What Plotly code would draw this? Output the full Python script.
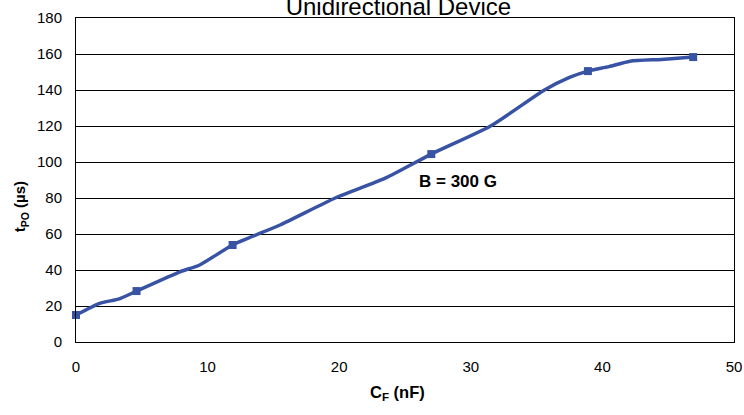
import plotly.graph_objects as go

# curve
curve_x = [0, 1.8, 3.3, 4.6, 7.9, 9.4, 11.9, 15.5, 19.7, 23.5, 27.0, 31.5, 35.6, 37.5, 38.9, 40.5, 42.1, 44.5, 46.9]
curve_y = [15, 21.5, 24, 28.3, 39, 42.8, 53.9, 65, 80, 91, 104.4, 120, 140, 147, 150.5, 153, 156, 157, 158.3]
# marked points
mark_x = [0, 4.6, 11.9, 27.0, 38.9, 46.9]
mark_y = [15, 28.3, 53.9, 104.4, 150.5, 158.3]

x_ticks = [0, 10, 20, 30, 40, 50]
y_ticks = [0, 20, 40, 60, 80, 100, 120, 140, 160, 180]

color = "#3953a4"
fig = go.Figure()
fig.add_trace(go.Scatter(x=curve_x, y=curve_y, mode="lines",
                         line=dict(color=color, width=3.5, shape="spline", smoothing=0.6),
                         showlegend=False, hoverinfo="skip", cliponaxis=False))
fig.add_trace(go.Scatter(x=mark_x, y=mark_y, mode="markers",
                         marker=dict(color=color, symbol="square", size=8),
                         showlegend=False, cliponaxis=False))

fig.update_layout(
    width=744, height=415,
    margin=dict(l=76, r=10, t=18, b=73, autoexpand=False),
    paper_bgcolor="white", plot_bgcolor="white",
    font=dict(family="Liberation Sans, Arial, sans-serif", size=15, color="black"),
    title=dict(text="Unidirectional Device", x=0.49, xref="paper", xanchor="center",
               y=0.964, yref="container", yanchor="bottom",
               font=dict(size=24, color="black")),
    xaxis=dict(range=[0, 50], tickvals=x_ticks, showgrid=False, zeroline=False,
               showline=True, linecolor="black", linewidth=1, mirror=True, automargin=False,
               ticks="outside", ticklen=11, tickcolor="white", tickfont=dict(size=15)),
    yaxis=dict(range=[0, 180], tickvals=y_ticks, showgrid=True, gridcolor="black", gridwidth=1,
               zeroline=False, showline=True, linecolor="black", linewidth=1, mirror=True,
               automargin=False,
               ticks="outside", ticklen=10, tickcolor="white", tickfont=dict(size=15)),
    annotations=[
        dict(text="<b>B = 300 G</b>", x=29.0, y=88.9, xref="x", yref="y", showarrow=False,
             font=dict(size=17)),
        dict(text="<b>C<sub>F</sub> (nF)</b>", x=0.488, y=-0.158, xref="paper", yref="paper",
             xanchor="center", yanchor="middle", showarrow=False, font=dict(size=16.5)),
        dict(text="<b>t<sub>PO</sub> (µs)</b>", x=-0.083, y=0.417, xref="paper", yref="paper",
             xanchor="center", yanchor="middle", showarrow=False, textangle=-90,
             font=dict(size=15)),
    ],
)
fig.write_html("out.html", config={"displayModeBar": False},
               post_script="document.body.style.margin='0';")
